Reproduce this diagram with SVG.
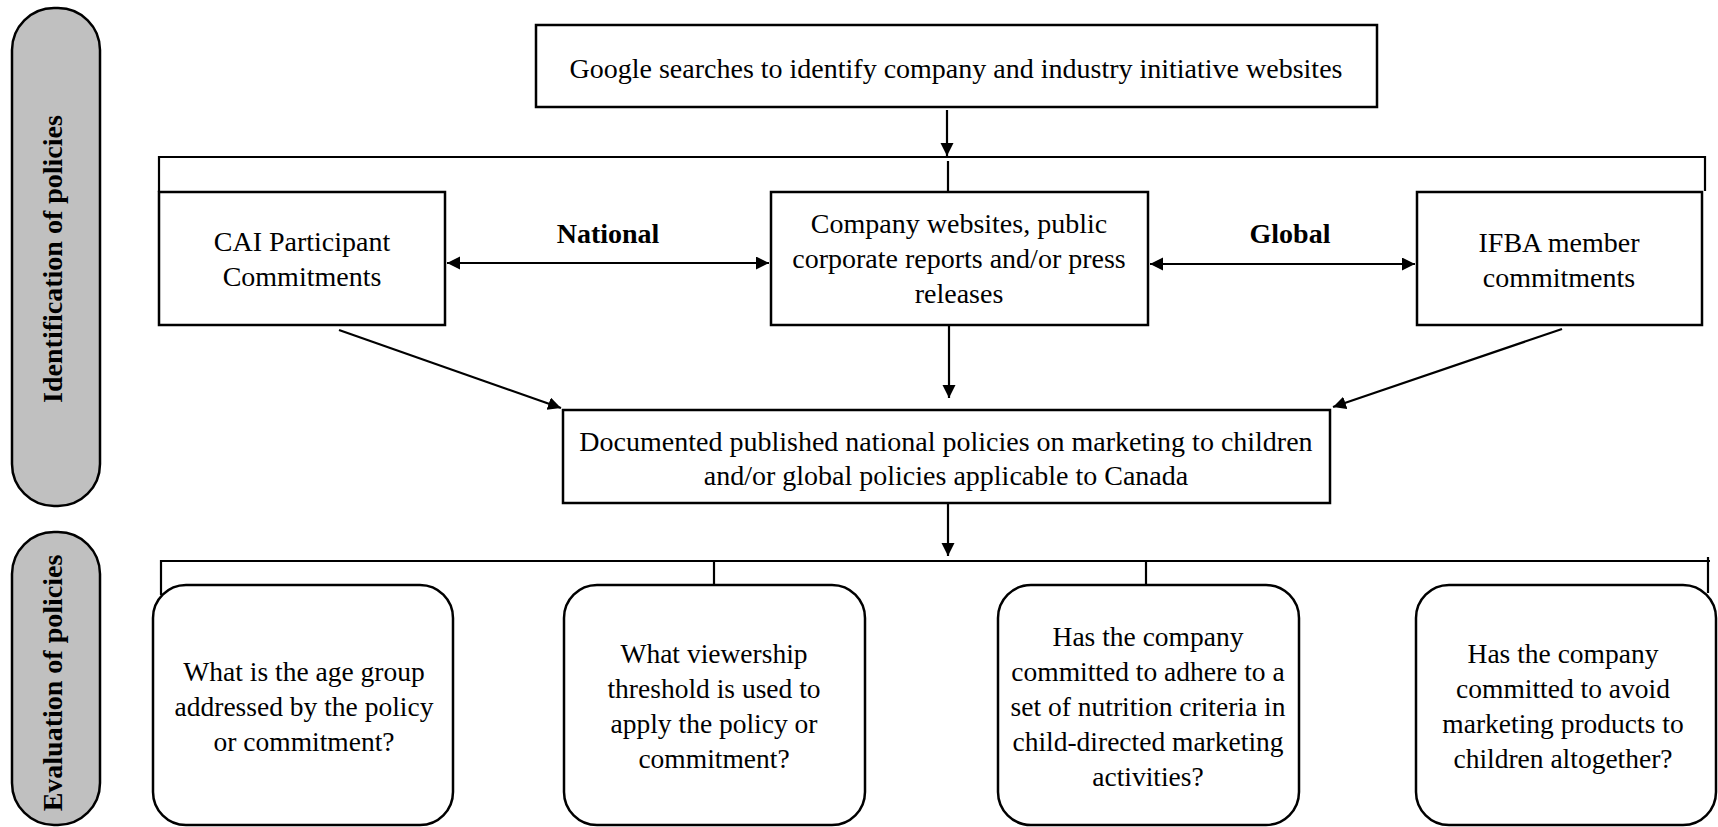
<svg xmlns="http://www.w3.org/2000/svg" width="1718" height="827" viewBox="0 0 1718 827">
<style>
.box{fill:#fff;stroke:#000;stroke-width:2.5}
.pill{fill:#c0c0c0;stroke:#000;stroke-width:2.5}
.t{font-family:'Liberation Serif',Tinos,'Times New Roman','DejaVu Serif',serif;font-size:28px;fill:#000;text-anchor:middle}
.tb{font-size:27.5px}
.b{font-weight:bold}
.ln{fill:none;stroke:#000;stroke-width:2.2}
.ar{marker-end:url(#ah)}
.dar{marker-start:url(#ah);marker-end:url(#ah)}
</style>
<defs>
<marker id="ah" markerUnits="userSpaceOnUse" markerWidth="14" markerHeight="14" refX="13" refY="6.5" orient="auto-start-reverse">
<path d="M0,0 L13,6.5 L0,13 Z" fill="#000"/>
</marker>
</defs>
<rect width="1718" height="827" fill="#fff"/>

<g id="phase-identification">
<rect class="pill" x="12" y="8" width="88" height="498" rx="42" ry="42"/>
<text class="t b" font-family="Liberation Serif, serif" transform="translate(62,259) rotate(-90)">Identification of policies</text>
</g>
<g id="phase-evaluation">
<rect class="pill" x="12" y="532" width="88" height="293" rx="42" ry="42"/>
<text class="t b" transform="translate(62,683) rotate(-90)">Evaluation of policies</text>
</g>

<g id="connectors">
<line class="ln ar" x1="947" y1="110" x2="947" y2="156"/>
<polyline class="ln" points="159,192 159,157 1705,157 1705,191"/>
<line class="ln" x1="948" y1="161" x2="948" y2="192"/>
<line class="ln dar" x1="447" y1="263" x2="769" y2="263"/>
<line class="ln dar" x1="1150" y1="264" x2="1415" y2="264"/>
<line class="ln ar" x1="339" y1="330" x2="561" y2="408"/>
<line class="ln ar" x1="949" y1="326" x2="949" y2="398"/>
<line class="ln ar" x1="1562" y1="329" x2="1333" y2="407"/>
<line class="ln ar" x1="948" y1="504" x2="948" y2="556"/>
<polyline class="ln" points="161,595 161,561 1710,561"/>
<line class="ln" x1="1708" y1="557" x2="1708" y2="593"/>
<line class="ln" x1="714" y1="561" x2="714" y2="588"/>
<line class="ln" x1="1146" y1="561" x2="1146" y2="586"/>
<text class="t b" x="608" y="243">National</text>
<text class="t b" x="1290" y="243">Global</text>
</g>

<g id="google">
<rect class="box" x="536" y="25" width="841" height="82"/>
<text class="t" x="956" y="78">Google searches to identify company and industry initiative websites</text>
</g>
<g id="cai">
<rect class="box" x="159" y="192" width="286" height="133"/>
<text class="t"><tspan x="302" y="251">CAI Participant</tspan><tspan x="302" y="286">Commitments</tspan></text>
</g>
<g id="company">
<rect class="box" x="771" y="192" width="377" height="133"/>
<text class="t"><tspan x="959" y="233">Company websites, public</tspan><tspan x="959" y="268">corporate reports and/or press</tspan><tspan x="959" y="303">releases</tspan></text>
</g>
<g id="ifba">
<rect class="box" x="1417" y="192" width="285" height="133"/>
<text class="t"><tspan x="1559" y="252">IFBA member</tspan><tspan x="1559" y="287">commitments</tspan></text>
</g>
<g id="documented">
<rect class="box" x="563" y="410" width="767" height="93"/>
<text class="t"><tspan x="946" y="451">Documented published national policies on marketing to children</tspan><tspan x="946" y="485">and/or global policies applicable to Canada</tspan></text>
</g>

<g id="q-age">
<rect class="box" x="153" y="585" width="300" height="240" rx="33"/>
<text class="t tb"><tspan x="304" y="681">What is the age group</tspan><tspan x="304" y="716">addressed by the policy</tspan><tspan x="304" y="751">or commitment?</tspan></text>
</g>
<g id="q-viewership">
<rect class="box" x="564" y="585" width="301" height="240" rx="33"/>
<text class="t tb"><tspan x="714" y="663">What viewership</tspan><tspan x="714" y="698">threshold is used to</tspan><tspan x="714" y="733">apply the policy or</tspan><tspan x="714" y="768">commitment?</tspan></text>
</g>
<g id="q-nutrition">
<rect class="box" x="998" y="585" width="301" height="240" rx="33"/>
<text class="t tb"><tspan x="1148" y="646">Has the company</tspan><tspan x="1148" y="681">committed to adhere to a</tspan><tspan x="1148" y="716">set of nutrition criteria in</tspan><tspan x="1148" y="751">child-directed marketing</tspan><tspan x="1148" y="786">activities?</tspan></text>
</g>
<g id="q-avoid">
<rect class="box" x="1416" y="585" width="300" height="240" rx="33"/>
<text class="t tb"><tspan x="1563" y="663">Has the company</tspan><tspan x="1563" y="698">committed to avoid</tspan><tspan x="1563" y="733">marketing products to</tspan><tspan x="1563" y="768">children altogether?</tspan></text>
</g>
</svg>
